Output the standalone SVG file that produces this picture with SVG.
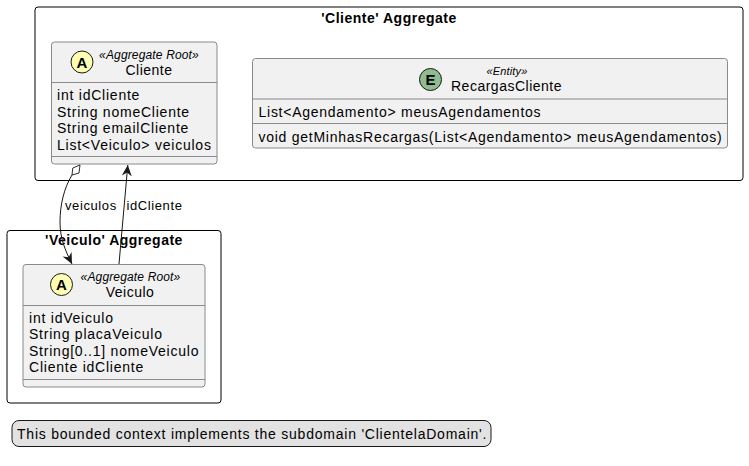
<svg xmlns="http://www.w3.org/2000/svg" width="749" height="466" viewBox="0 0 749 466">
<style>
text{font-family:"Liberation Sans",Arial,sans-serif;fill:#000}
.pkg{fill:#fff;stroke:#000;stroke-width:1}
.cls{fill:#f1f1f1;stroke:#8a8a8a;stroke-width:1}
.sep{stroke:#8a8a8a;stroke-width:1}
.t{font-size:14px;font-weight:bold;letter-spacing:.5px}
.m{font-size:14px;letter-spacing:.77px}
.w{letter-spacing:.74px}
.n{font-size:14px;text-anchor:middle;letter-spacing:.5px}
.s{font-size:12px;font-style:italic;text-anchor:middle;letter-spacing:.15px}
.i{font-size:15px;font-weight:bold;text-anchor:middle}
.l{font-size:13px;letter-spacing:.6px}
.c{fill:none;stroke:#181818;stroke-width:1}
</style>
<defs>
<marker id="arr" markerUnits="userSpaceOnUse" markerWidth="14" markerHeight="14" refX="11" refY="6" orient="auto"><path d="M0 1L11 6L0 11L3.500 6Z" fill="#181818"/></marker>
</defs>
<g id="pkg-cliente"><rect class="pkg" x="35" y="7" width="708" height="173.500" rx="3"/><text class="t" x="389" y="23" text-anchor="middle">'Cliente' Aggregate</text></g>
<g id="pkg-veiculo"><rect class="pkg" x="7" y="230.500" width="214" height="172.500" rx="3"/><text class="t" x="114" y="245" text-anchor="middle">'Veiculo' Aggregate</text></g>
<g id="node-cliente">
<rect class="cls" x="51.500" y="42" width="165.500" height="122" rx="3"/>
<line class="sep" x1="51.500" y1="82.500" x2="217" y2="82.500"/><line class="sep" x1="51.500" y1="156.500" x2="217" y2="156.500"/>
<circle cx="82" cy="62" r="11" fill="#fefeb2" stroke="#181818"/><text class="i" x="82" y="67.500">A</text>
<text class="s" x="149" y="59">«Aggregate Root»</text><text class="n" x="149" y="75">Cliente</text>
<text class="m" x="57" y="100">int idCliente</text><text class="m" x="57" y="117">String nomeCliente</text><text class="m" x="57" y="133">String emailCliente</text><text class="m" x="57" y="150">List&lt;Veiculo&gt; veiculos</text>
</g>
<g id="node-recargas">
<rect class="cls" x="252.500" y="58.500" width="475" height="89.500" rx="3"/>
<line class="sep" x1="252.500" y1="99" x2="727.500" y2="99"/><line class="sep" x1="252.500" y1="123.500" x2="727.500" y2="123.500"/>
<circle cx="430.500" cy="79.500" r="11" fill="#8fbc8f" stroke="#181818"/><text class="i" x="430.500" y="85">E</text>
<text class="s" x="507" y="75" style="font-size:11px">«Entity»</text><text class="n" x="506.500" y="91">RecargasCliente</text>
<text class="m w" x="258.500" y="117">List&lt;Agendamento&gt; meusAgendamentos</text>
<text class="m w" x="258.500" y="141.500">void getMinhasRecargas(List&lt;Agendamento&gt; meusAgendamentos)</text>
</g>
<g id="node-veiculo">
<rect class="cls" x="23" y="264.500" width="182" height="122.500" rx="3"/>
<line class="sep" x1="23" y1="305.500" x2="205" y2="305.500"/><line class="sep" x1="23" y1="379.500" x2="205" y2="379.500"/>
<circle cx="61.500" cy="284.500" r="11" fill="#fefeb2" stroke="#181818"/><text class="i" x="61.500" y="290">A</text>
<text class="s" x="130.500" y="281">«Aggregate Root»</text><text class="n" x="130" y="297">Veiculo</text>
<text class="m" x="29" y="323">int idVeiculo</text><text class="m" x="29" y="339">String placaVeiculo</text><text class="m" x="29" y="356">String[0..1] nomeVeiculo</text><text class="m" x="29" y="372">Cliente idCliente</text>
</g>
<g id="connectors">
<path class="c" d="M72 175C64 188 60 205 60 222C60 238 65 250 72 264" marker-end="url(#arr)"/>
<path fill="#fff" stroke="#181818" stroke-width=".9" d="M80 165L79 173L72 175L72.800 168Z"/>
<path class="c" d="M119 264L127.800 165" marker-end="url(#arr)"/>
<text class="l" x="65" y="210">veiculos</text>
<text class="l" x="126.500" y="210">idCliente</text>
</g>
<g id="note"><rect x="12" y="420.500" width="479" height="26" rx="7" fill="#e2e2e2" stroke="#181818"/><text class="m" x="17" y="439">This bounded context implements the subdomain 'ClientelaDomain'.</text></g>
</svg>
